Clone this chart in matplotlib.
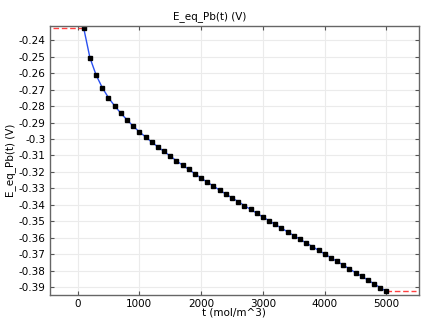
import numpy as np
import matplotlib
matplotlib.use("Agg")
import matplotlib.pyplot as plt
from matplotlib.ticker import MultipleLocator, FuncFormatter

# concentration points (mol/m^3) and equilibrium potential (V)
t = list(range(100, 5001, 100))
E_eq = [
    -0.2327, -0.2506, -0.2611, -0.2688, -0.2749, -0.2799, -0.2843, -0.2884, -0.2922, -0.2957,
    -0.2987, -0.3019, -0.3048, -0.3076, -0.3104, -0.3133, -0.3159, -0.3185, -0.3212, -0.3238,
    -0.3263, -0.3287, -0.3311, -0.3335, -0.3358, -0.3381, -0.3405, -0.3428, -0.3451, -0.3475,
    -0.3497, -0.3520, -0.3542, -0.3565, -0.3587, -0.3610, -0.3632, -0.3654, -0.3677, -0.3699,
    -0.3722, -0.3744, -0.3767, -0.3790, -0.3813, -0.3835, -0.3858, -0.3881, -0.3904, -0.3927,
]
# constant extrapolation outside the data range
extrap_left = [-400, 100]
extrap_right = [5000, 5480]

plt.rcParams["font.family"] = ["DejaVu Sans"]

fig = plt.figure(figsize=(4.27, 3.32), dpi=100)
ax = fig.add_axes([0.117, 0.1123, 0.864, 0.8094])

ax.plot(extrap_left, [E_eq[0], E_eq[0]], color="#ff4040", linestyle="--", linewidth=1.0, dashes=(4, 2))
ax.plot(extrap_right, [E_eq[-1], E_eq[-1]], color="#ff4040", linestyle="--", linewidth=1.0, dashes=(4, 2))
ax.plot(t, E_eq, color="#2a50f0", linewidth=1.0, marker="s", markersize=2.6,
        markerfacecolor="black", markeredgecolor="black")

ax.set_xlim(-447, 5525)
ax.set_ylim(-0.3947, -0.2313)
ax.xaxis.set_major_locator(MultipleLocator(1000))
ax.yaxis.set_major_locator(MultipleLocator(0.01))
ax.yaxis.set_major_formatter(FuncFormatter(lambda v, p: f"{v:.2f}".rstrip("0").rstrip(".")))

ax.grid(True, color="#ebebeb", linewidth=0.8)
ax.set_axisbelow(True)
ax.tick_params(direction="in", length=3, width=0.8, colors="#555555", labelcolor="black",
               labelsize=7.5, top=True, right=True, pad=3)
for s in ax.spines.values():
    s.set_color("#666666")
    s.set_linewidth(1.0)

fig.text(210 / 427, 1 - 17 / 332, "E_eq_Pb(t) (V)", fontsize=7.5, ha="center", va="center")
ax.set_xlabel("t (mol/m^3)", fontsize=7.5, labelpad=-1)
ax.set_ylabel("E_eq_Pb(t) (V)", fontsize=7.5, labelpad=2)

fig.savefig("out.png", dpi=100)
